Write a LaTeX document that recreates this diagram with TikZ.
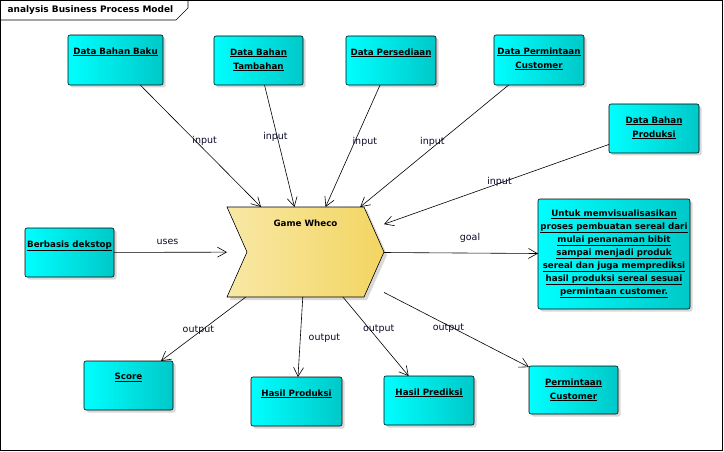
\documentclass[tikz,border=0pt]{standalone}
\usepackage{fontspec}
\setmainfont{DejaVu Sans}
\usetikzlibrary{arrows.meta,shadows}
\definecolor{boxL}{RGB}{0,255,255}
\definecolor{boxR}{RGB}{0,200,200}
\definecolor{gwL}{RGB}{248,232,165}
\definecolor{gwR}{RGB}{243,213,98}
\definecolor{lblcol}{RGB}{10,10,40}
\begin{document}
\begin{tikzpicture}[x=1pt,y=-1pt,
  box/.style={draw=black, line width=0.6pt, rounded corners=2pt, outer sep=0pt,
    left color=boxL, right color=boxR,
    drop shadow={shadow xshift=2.5pt, shadow yshift=-2.5pt, fill=black!30},
    minimum width=90pt, minimum height=49pt},
  boxtxt/.style={anchor=north, yshift=-9pt, align=center,
    font=\fontsize{8.7}{14}\selectfont\bfseries},
  flow/.style={draw=black, line width=0.6pt, -{Straight Barb[length=9pt,width=10pt]}},
  lbl/.style={font=\fontsize{9.5}{11}\selectfont, text=lblcol, inner sep=1pt}]
\def\gw{157};
\def\gh{90};
\useasboundingbox (0,0) rectangle (724,452);

% frame and title tab
\draw[line width=0.6pt] (0.5,0.5) rectangle (722.5,450.5);
\draw[line width=0.6pt] (0.5,20) -- (176,20) -- (188,8) -- (188,0.5);
\node[anchor=west, font=\fontsize{9}{10}\selectfont\bfseries] (title) at (4,10.5) {analysis Business Process Model};

% inputs
\node[box, minimum width=95pt, minimum height=50pt, label={[boxtxt]north:\underline{Data Bahan Baku}}] (baku) at (115.5,60) {};
\node[box, minimum width=89pt, label={[boxtxt]north:\underline{Data Bahan}\\\underline{Tambahan}}] (tambahan) at (258.5,60.5) {};
\node[box, label={[boxtxt]north:\underline{Data Persediaan}}] (persediaan) at (391,60.5) {};
\node[box, minimum height=50pt, label={[boxtxt]north:\underline{Data Permintaan}\\\underline{Customer}}] (permintaan) at (539,60) {};
\node[box, label={[boxtxt]north:\underline{Data Bahan}\\\underline{Produksi}}] (produksi) at (654,128.5) {};
\node[box, minimum width=89pt, label={[boxtxt]north:\underline{Berbasis dekstop}}] (dekstop) at (69.5,252.5) {};

% process
\node[minimum width=\gw pt, minimum height=\gh pt, outer sep=0pt] (game) at (305.5,252) {};
\path[draw=black, line width=0.6pt, left color=gwL, right color=gwR,
  drop shadow={shadow xshift=3pt, shadow yshift=-3pt, fill=black!30}]
  (game.north west) -- ([xshift=-20pt]game.north east) -- (game.east)
  -- ([xshift=-20pt]game.south east) -- (game.south west)
  -- ([xshift=20pt]game.west) -- cycle;
\node[anchor=north, font=\fontsize{8.7}{10}\selectfont\bfseries] (gametxt) at ([yshift=-9pt]game.north) {Game Wheco};

% goal
\node[box, minimum width=152pt, minimum height=110pt, align=center, inner sep=1pt,
  font=\fontsize{8.7}{13}\selectfont\bfseries] (goal) at (614,254)
  {\underline{Untuk memvisualisasikan}\\\underline{proses pembuatan sereal dari}\\
   \underline{mulai penanaman bibit}\\\underline{sampai menjadi produk}\\
   \underline{sereal dan juga memprediksi}\\\underline{hasil produksi sereal sesuai}\\
   \underline{permintaan customer.}};

% outputs
\node[box, minimum width=89pt, label={[boxtxt]north:\underline{Score}}] (score) at (128.5,385.5) {};
\node[box, minimum width=91pt, label={[boxtxt]north:\underline{Hasil Produksi}}] (hasilprod) at (296.5,401.5) {};
\node[box, label={[boxtxt]north:\underline{Hasil Prediksi}}] (hasilpred) at (429,400.5) {};
\node[box, minimum width=89pt, minimum height=48pt, label={[boxtxt]north:\underline{Permintaan}\\\underline{Customer}}] (permcust) at (573.5,390) {};

% connectors
\draw[flow] (baku) -- (game) node[lbl, midway, xshift=4pt, yshift=5pt] {input};
\draw[flow] (tambahan) -- (game) node[lbl, midway, xshift=-4pt, yshift=9pt] {input};
\draw[flow] (persediaan) -- (game) node[lbl, midway, xshift=12pt, yshift=4pt] {input};
\draw[flow] (permintaan) -- (game) node[lbl, midway, xshift=-2pt, yshift=4pt] {input};
\draw[flow] (produksi) -- (game) node[lbl, midway, xshift=3pt, yshift=2pt] {input};
\draw[flow] (dekstop) -- (game) node[lbl, midway, xshift=-3pt, yshift=10pt] {uses};
\draw[flow] (game) -- (goal) node[lbl, midway, xshift=9pt, yshift=15pt] {goal};
\draw[flow] (game) -- (score) node[lbl, midway, xshift=-5pt, yshift=-1pt] {output};
\draw[flow] (game) -- (hasilprod) node[lbl, midway, xshift=24pt, yshift=-1pt] {output};
\draw[flow] (game) -- (hasilpred) node[lbl, midway, xshift=3pt, yshift=7pt] {output};
\draw[flow] (game) -- (permcust) node[lbl, midway, xshift=-8pt, yshift=2pt] {output};

\end{tikzpicture}
\end{document}
